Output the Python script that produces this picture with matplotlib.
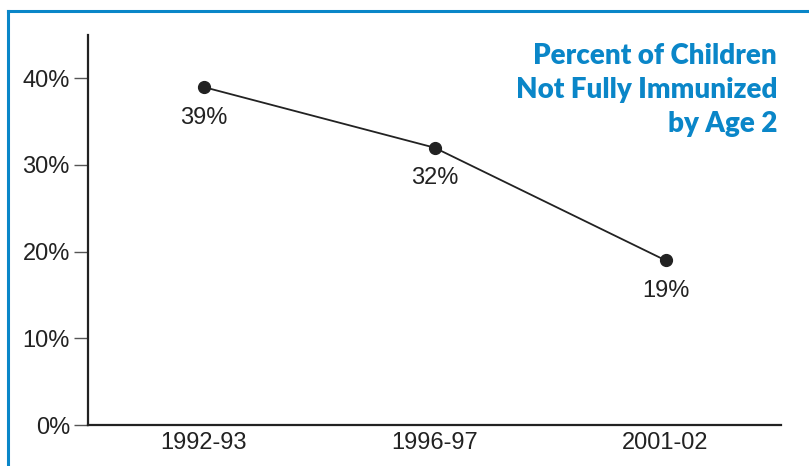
import matplotlib
matplotlib.use("Agg")
import matplotlib.pyplot as plt
from matplotlib.lines import Line2D

periods = ["1992-93", "1996-97", "2001-02"]
pct_not_immunized = [39, 32, 19]
y_ticks = [0, 10, 20, 30, 40]
y_tick_labels = ["0%", "10%", "20%", "30%", "40%"]
title_lines = "Percent of Children\nNot Fully Immunized\nby Age 2"

BLUE = "#0a86c8"
INK = "#222222"

plt.rcParams["font.family"] = ["Liberation Sans", "DejaVu Sans"]

fig = plt.figure(figsize=(8.09, 4.66), dpi=100)
W, H = 809, 466
ax = fig.add_axes([88 / W, 1 - 425 / H, (781 - 88) / W, (425 - 35) / H])

x = list(range(len(periods)))
ax.plot(x, pct_not_immunized, color=INK, lw=1.3, marker="o", ms=8.5,
        mfc=INK, mec=INK, zorder=3, clip_on=False)
for xi, v in zip(x, pct_not_immunized):
    ax.annotate(f"{v}%", (xi, v), xytext=(0, -22), textcoords="offset points",
                ha="center", va="center", fontsize=17, color=INK)

ax.set_xlim(-0.5, len(periods) - 0.5)
ax.set_ylim(0, 45)
ax.set_xticks(x)
ax.set_xticklabels(periods)
ax.set_yticks(y_ticks)
ax.set_yticklabels(y_tick_labels)
ax.tick_params(axis="x", length=0, pad=5, labelsize=17, labelcolor=INK)
ax.tick_params(axis="y", length=10, width=1.0, color="#555555", pad=3,
               labelsize=17, labelcolor=INK)
for s in ["top", "right"]:
    ax.spines[s].set_visible(False)
for s in ["left", "bottom"]:
    ax.spines[s].set_color(INK)
    ax.spines[s].set_linewidth(1.6)

fig.text(777 / W, 1 - 43 / H, title_lines, ha="right", va="top",
         fontsize=20, fontweight="heavy", color=BLUE, linespacing=1.38,
         family=["Lato", "DejaVu Sans"])

# frame strokes along the left and top edges
fig.add_artist(Line2D([8 / W, 8 / W], [0, 1 - 11 / H], transform=fig.transFigure,
                      color=BLUE, lw=2.2))
fig.add_artist(Line2D([8 / W, 1], [1 - 11 / H, 1 - 11 / H], transform=fig.transFigure,
                      color=BLUE, lw=2.2))

fig.savefig("out.png", dpi=100)
